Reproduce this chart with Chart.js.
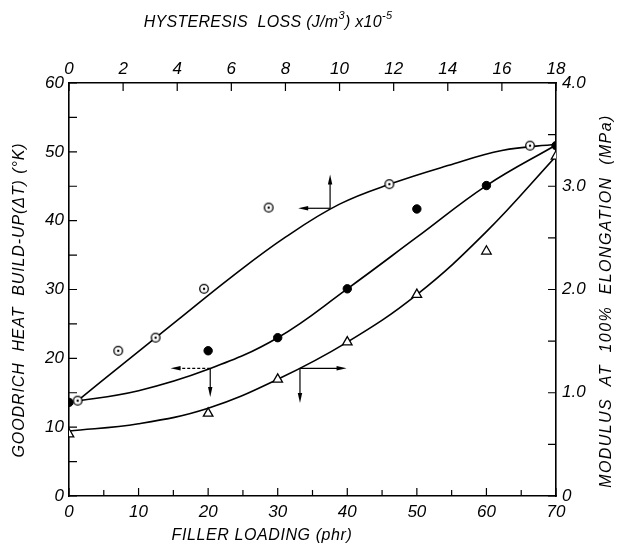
<!DOCTYPE html>
<html>
<head>
<meta charset="utf-8">
<script src="https://cdn.jsdelivr.net/npm/chart.js@4/dist/chart.umd.min.js"></script>
<style>
  html, body { margin: 0; padding: 0; background: #fff; }
  canvas { display: block; }
</style>
</head>
<body>
<canvas id="chart" width="618" height="548"></canvas>
<script>
// Goodrich heat build-up and modulus against filler loading (phr)
const fillerLoading = [0, 20, 30, 40, 50, 60, 70];
const heatBuildUp = [13.6, 21.1, 23.0, 30.1, 41.7, 45.1, 50.9];
const modulus = [0.60, 0.80, 1.13, 1.49, 1.95, 2.37, 3.29];

// heat build-up against hysteresis loss (J/m3 x 1e-5)
const hysteresisLoss = [0.32, 1.82, 3.2, 4.99, 7.38, 11.84, 17.04];
const hysteresisHeat = [13.85, 21.1, 23.0, 30.1, 41.9, 45.3, 50.9];

// drawn-in trend curves
const hystCurveX = [0.3, 2, 4, 6, 8, 10, 12, 14, 16, 18];
const hystCurveY = [13.8, 19.2, 25.5, 31.8, 37.6, 42.4, 45.5, 48.0, 50.2, 51.1];
const heatCurveX = [0, 10, 20, 30, 40, 50, 60, 70];
const heatCurveY = [13.6, 15.3, 18.4, 23.0, 30.1, 37.6, 45.1, 51.0];
const modCurveX = [0, 10, 20, 30, 40, 50, 60, 70];
const modCurveY = [0.63, 0.70, 0.85, 1.13, 1.49, 1.95, 2.56, 3.29];

// axis-pointer arrows: [originX, originY, endX, endY]
const hystArrows = [[9.65, 41.8, 9.65, 46.7], [9.65, 41.8, 8.47, 41.8]];
const heatArrows = [[20.3, 18.55, 20.3, 14.4], [20.3, 18.55, 14.6, 18.55]];
const modArrows = [[33.2, 1.237, 33.2, 0.90], [33.2, 1.237, 39.9, 1.237]];

const pairs = (xs, ys) => xs.map((x, i) => ({ x: x, y: ys[i] }));

// open circle with a centre dot
const dotCircle = document.createElement('canvas');
dotCircle.width = 12; dotCircle.height = 12;
(() => {
    const c = dotCircle.getContext('2d');
    c.fillStyle = '#fff';
    c.strokeStyle = '#000';
    c.lineWidth = 1.3;
    c.beginPath(); c.arc(6, 6, 4.3, 0, Math.PI * 2); c.fill(); c.stroke();
    c.fillStyle = '#000';
    c.beginPath(); c.arc(6, 6, 1.2, 0, Math.PI * 2); c.fill();
})();

const tickFont = { family: 'Liberation Sans', style: 'italic', size: 17 };

const drawArrow = (ctx, x0, y0, x1, y1, dashed) => {
    const ang = Math.atan2(y1 - y0, x1 - x0);
    const head = 10;
    ctx.save();
    ctx.lineWidth = 1.2;
    if (dashed) ctx.setLineDash([3, 2]);
    ctx.beginPath();
    ctx.moveTo(x0, y0);
    ctx.lineTo(x1 - Math.cos(ang) * head * 0.6, y1 - Math.sin(ang) * head * 0.6);
    ctx.stroke();
    ctx.setLineDash([]);
    ctx.beginPath();
    ctx.moveTo(x1, y1);
    ctx.lineTo(x1 - Math.cos(ang) * head + Math.sin(ang) * 2.2, y1 - Math.sin(ang) * head - Math.cos(ang) * 2.2);
    ctx.lineTo(x1 - Math.cos(ang) * head - Math.sin(ang) * 2.2, y1 - Math.sin(ang) * head + Math.cos(ang) * 2.2);
    ctx.closePath();
    ctx.fill();
    ctx.restore();
};

const spacedText = (ctx, text, x, y, spacing) => {
    ctx.letterSpacing = spacing + 'px';
    ctx.fillText(text, x, y);
    ctx.letterSpacing = '0px';
};

const decorations = {
    id: 'decorations',
    afterDraw(chart) {
        const ctx = chart.ctx;
        const { left, right, top, bottom } = chart.chartArea;
        const s = chart.scales;
        ctx.save();
        ctx.strokeStyle = '#000';
        ctx.fillStyle = '#000';

        // inward tick marks
        ctx.lineWidth = 1.2;
        ctx.beginPath();
        s.x.ticks.forEach(t => {
            const px = s.x.getPixelForValue(t.value);
            const len = t.value % 10 === 0 ? 8 : 6;
            ctx.moveTo(px, bottom); ctx.lineTo(px, bottom - len);
        });
        s.xTop.ticks.forEach(t => {
            const px = s.xTop.getPixelForValue(t.value);
            ctx.moveTo(px, top); ctx.lineTo(px, top + 8);
        });
        s.y.ticks.forEach(t => {
            const py = s.y.getPixelForValue(t.value);
            ctx.moveTo(left, py); ctx.lineTo(left + 8, py);
        });
        s.yRight.ticks.forEach(t => {
            const py = s.yRight.getPixelForValue(t.value);
            ctx.moveTo(right, py); ctx.lineTo(right - 8, py);
        });
        ctx.stroke();

        // arrows pointing at the axis each curve is read against
        hystArrows.forEach(a => drawArrow(ctx, s.xTop.getPixelForValue(a[0]), s.y.getPixelForValue(a[1]),
            s.xTop.getPixelForValue(a[2]), s.y.getPixelForValue(a[3]), false));
        heatArrows.forEach((a, i) => drawArrow(ctx, s.x.getPixelForValue(a[0]), s.y.getPixelForValue(a[1]),
            s.x.getPixelForValue(a[2]), s.y.getPixelForValue(a[3]), i === 1));
        modArrows.forEach(a => drawArrow(ctx, s.x.getPixelForValue(a[0]), s.yRight.getPixelForValue(a[1]),
            s.x.getPixelForValue(a[2]), s.yRight.getPixelForValue(a[3]), false));

        // axis titles
        ctx.font = 'italic 16px "Liberation Sans"';
        ctx.textAlign = 'center';
        ctx.textBaseline = 'middle';
        spacedText(ctx, 'FILLER LOADING (phr)', 262, 536, 0.6);

        // top title with superscripts
        const parts = [['HYSTERESIS  LOSS (J/m', 0], ['3', 1], [') x10', 0], ['-5', 1]];
        ctx.textAlign = 'left';
        ctx.letterSpacing = '0.3px';
        let w = 0;
        parts.forEach(p => {
            ctx.font = p[1] ? 'italic 11px "Liberation Sans"' : 'italic 16px "Liberation Sans"';
            w += ctx.measureText(p[0]).width;
        });
        let x = 268 - w / 2;
        parts.forEach(p => {
            ctx.font = p[1] ? 'italic 11px "Liberation Sans"' : 'italic 16px "Liberation Sans"';
            ctx.fillText(p[0], x, p[1] ? 16 : 23);
            x += ctx.measureText(p[0]).width;
        });
        ctx.letterSpacing = '0px';

        ctx.textAlign = 'center';
        ctx.font = 'italic 16px "Liberation Sans"';
        ctx.save();
        ctx.translate(20, 300);
        ctx.rotate(-Math.PI / 2);
        spacedText(ctx, 'GOODRICH  HEAT  BUILD-UP(ΔT) (°K)', 0, 0, 0.9);
        ctx.restore();

        ctx.save();
        ctx.translate(607, 301);
        ctx.rotate(-Math.PI / 2);
        spacedText(ctx, 'MODULUS  AT  100%  ELONGATION  (MPa)', 0, 0, 1.4);
        ctx.restore();

        ctx.restore();
    }
};

const fixSize = (prop, val) => scale => { scale[prop] = val; };

new Chart(document.getElementById('chart').getContext('2d'), {
    type: 'scatter',
    data: {
        datasets: [
            { data: pairs(hysteresisLoss, hysteresisHeat), xAxisID: 'xTop', yAxisID: 'y', pointStyle: dotCircle },
            { data: pairs(fillerLoading, heatBuildUp), xAxisID: 'x', yAxisID: 'y', pointStyle: 'circle',
              pointRadius: 4.2, backgroundColor: '#000', borderColor: '#000' },
            { data: pairs(fillerLoading, modulus), xAxisID: 'x', yAxisID: 'yRight', pointStyle: 'triangle',
              pointRadius: 5.5, backgroundColor: '#fff', borderColor: '#000', borderWidth: 1.3 },
            { type: 'line', data: pairs(hystCurveX, hystCurveY), xAxisID: 'xTop', yAxisID: 'y',
              borderColor: '#000', borderWidth: 1.6, pointRadius: 0, tension: 0.4 },
            { type: 'line', data: pairs(heatCurveX, heatCurveY), xAxisID: 'x', yAxisID: 'y',
              borderColor: '#000', borderWidth: 1.6, pointRadius: 0, tension: 0.4 },
            { type: 'line', data: pairs(modCurveX, modCurveY), xAxisID: 'x', yAxisID: 'yRight',
              borderColor: '#000', borderWidth: 1.6, pointRadius: 0, tension: 0.4 }
        ]
    },
    options: {
        responsive: false,
        animation: false,
        layout: { padding: 0 },
        plugins: { legend: { display: false }, tooltip: { enabled: false } },
        scales: {
            x: {
                type: 'linear', position: 'bottom', min: 0, max: 70,
                grid: { display: false, drawTicks: false },
                border: { display: true, color: '#000', width: 1.6 },
                ticks: { stepSize: 5, padding: 6, color: '#000', font: tickFont, maxRotation: 0,
                         callback: v => v % 10 === 0 ? String(v) : '' },
                afterFit: fixSize('height', 52)
            },
            xTop: {
                type: 'linear', position: 'top', min: 0, max: 18,
                grid: { display: false, drawTicks: false },
                border: { display: true, color: '#000', width: 1.6 },
                ticks: { stepSize: 2, padding: 4, color: '#000', font: tickFont, maxRotation: 0 },
                afterFit: fixSize('height', 83)
            },
            y: {
                type: 'linear', position: 'left', min: 0, max: 60,
                grid: { display: false, drawTicks: false },
                border: { display: true, color: '#000', width: 1.6 },
                ticks: { stepSize: 5, padding: 5, color: '#000', font: tickFont,
                         callback: v => v % 10 === 0 ? String(v) : '' },
                afterFit: fixSize('width', 69)
            },
            yRight: {
                type: 'linear', position: 'right', min: 0, max: 4,
                grid: { display: false, drawTicks: false },
                border: { display: true, color: '#000', width: 1.6 },
                ticks: { stepSize: 0.5, padding: 6, color: '#000', font: tickFont,
                         callback: v => v === 0 ? '0' : (Number.isInteger(v) ? v.toFixed(1) : '') },
                afterFit: fixSize('width', 62)
            }
        }
    },
    plugins: [decorations]
});
</script>
</body>
</html>
